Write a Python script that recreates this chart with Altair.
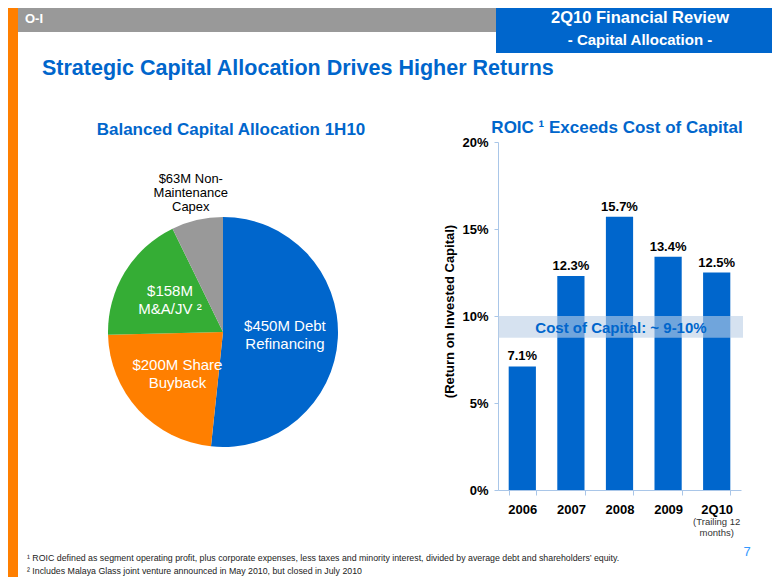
import altair as alt
import pandas as pd

# ---------------- data ----------------
pie_categories = ["Debt Refinancing", "Share Buyback", "M&A/JV", "Non-Maintenance Capex"]
pie_amounts = [450, 200, 158, 63]
pie_labels = ["$450M Debt\nRefinancing", "$200M Share\nBuyback", "$158M\nM&A/JV ²", "$63M Non-\nMaintenance\nCapex"]
pie_colors = ["#0066CC", "#FF7F00", "#35AD35", "#999999"]

years = ["2006", "2007", "2008", "2009", "2Q10"]
roic = [7.1, 12.3, 15.7, 13.4, 12.5]
roic_labels = ["7.1%", "12.3%", "15.7%", "13.4%", "12.5%"]
y_ticks = [0, 5, 10, 15, 20]
cost_of_capital = [8.75, 10.0]

W, H = 764, 569
FONT = "Liberation Sans"
BLUE = "#0066CC"
AXIS_BLUE = "#A9C6E8"

pie_df = pd.DataFrame({"cat": pie_categories, "amount": pie_amounts,
                       "label": pie_labels, "idx": list(range(len(pie_categories)))})
bar_df = pd.DataFrame({"year": years, "roic": roic, "lab": roic_labels})
band_df = pd.DataFrame({"lo": [cost_of_capital[0]], "hi": [cost_of_capital[1]]})
note_df = pd.DataFrame({"year": ["2Q10"], "note": ["(Trailing 12\nmonths)"]})

one = alt.Data(values=[{}])


def rect(x, x2, y, y2, color, **kw):
    return alt.Chart(one).mark_rect(color=color, **kw).encode(
        x=alt.value(x), x2=alt.value(x2), y=alt.value(y), y2=alt.value(y2))


def txt(s, x, y, size, color="#000000", weight="normal", align="left",
        baseline="alphabetic", lh=None):
    kw = dict(text=s, fontSize=size, color=color, fontWeight=weight,
              align=align, baseline=baseline, font=FONT)
    if lh:
        kw["lineHeight"] = lh
    return alt.Chart(one).mark_text(**kw).encode(x=alt.value(x), y=alt.value(y))


# ---------------- header / decorations ----------------
layers = [
    rect(0, 10, 0, H, "#FF7F00"),
    rect(10, 488, 0, 24, "#999999"),
    rect(488, W, 0, 45, BLUE),
    txt("O-I", 17, 11, 13, "#FFFFFF", "bold", baseline="middle"),
    txt("2Q10 Financial Review", 632, 15, 16.5, "#FFFFFF", "bold", align="center"),
    txt("- Capital Allocation -", 632, 37, 15, "#FFFFFF", "bold", align="center"),
    txt("Strategic Capital Allocation Drives Higher Returns", 34, 67, 21.5, BLUE, "bold"),
    txt("Balanced Capital Allocation 1H10", 223, 127, 17, BLUE, "bold", align="center"),
    txt("ROIC ¹ Exceeds Cost of Capital", 609, 125, 17, BLUE, "bold", align="center"),
]

# ---------------- pie ----------------
PX, PY = 215, 324
theta = alt.Theta("amount:Q", stack=True)
order = alt.Order("idx:Q")
color = alt.Color("cat:N", scale=alt.Scale(domain=pie_categories, range=pie_colors), legend=None)

pie_base = alt.Chart(pie_df).encode(theta=theta, order=order, color=color,
                                    x=alt.value(PX), y=alt.value(PY))
pie = pie_base.mark_arc(outerRadius=115)
pie_in = pie_base.transform_calculate(
    t="datum.cat != 'Non-Maintenance Capex' ? datum.label : ''"
).mark_text(radius=62, dy=-9, fontSize=15, lineBreak="\n", lineHeight=18, font=FONT,
            align="center", baseline="middle").encode(text="t:N", color=alt.value("#FFFFFF"))
pie_out = pie_base.transform_calculate(
    t="datum.cat == 'Non-Maintenance Capex' ? datum.label : ''"
).mark_text(radius=143, dy=-14, fontSize=13, lineBreak="\n", lineHeight=14, font=FONT,
            align="center", baseline="middle").encode(text="t:N", color=alt.value("#000000"))

layers += [pie, pie_in, pie_out]

# ---------------- bar chart ----------------
x_scale = alt.Scale(domain=years, range=[490, 733], paddingInner=0.44, paddingOuter=0.22)
y_scale = alt.Scale(domain=[0, 20], range=[482, 134], nice=False, zero=True)

x_axis = alt.Axis(orient="bottom", offset=-87, tickBand="extent", tickSize=5,
                  labelPadding=8, labelFontWeight="bold", labelFontSize=13,
                  labelColor="#000000", labelFont=FONT, labelAngle=0,
                  domainColor=AXIS_BLUE, tickColor=AXIS_BLUE, grid=False, title=None)
y_axis = alt.Axis(orient="left", offset=-490, values=y_ticks,
                  labelExpr="datum.value + '%'", tickSize=4, labelPadding=6,
                  labelFontWeight="bold", labelFontSize=13, labelColor="#000000",
                  labelFont=FONT, domainColor=AXIS_BLUE, tickColor=AXIS_BLUE, grid=False,
                  title="(Return on Invested Capital)", titleFontSize=13,
                  titleFontWeight="bold", titleColor="#000000", titleFont=FONT,
                  titleX=-49, titleY=303, titleAngle=270, titleAlign="center",
                  titleBaseline="middle")

X = alt.X("year:N", scale=x_scale, axis=x_axis, sort=years)
bar_base = alt.Chart(bar_df).encode(x=X, y=alt.Y("roic:Q", scale=y_scale, axis=y_axis))
bars = bar_base.mark_bar(color=BLUE)
bar_labels = bar_base.mark_text(dy=-6, baseline="alphabetic", fontSize=13,
                                fontWeight="bold", font=FONT, color="#000000").encode(text="lab:N")

band = alt.Chart(band_df).mark_rect(color="#BACEE6", opacity=0.6).encode(
    x=alt.value(490), x2=alt.value(735),
    y=alt.Y("lo:Q", scale=y_scale, axis=y_axis), y2="hi:Q")
band_text = txt("Cost of Capital: ~ 9-10%", 613, 320, 15, BLUE, "bold",
                align="center", baseline="middle")

note = alt.Chart(note_df).mark_text(fontSize=9.5, lineBreak="\n", lineHeight=11,
                                    font=FONT, color="#333333", baseline="top").encode(
    x=X, y=alt.value(509), text="note:N")

layers += [bars, band, band_text, bar_labels, note]

# ---------------- footnotes ----------------
layers += [
    txt("¹ ROIC defined as segment operating profit, plus corporate expenses, less taxes and minority interest, divided by average debt and shareholders’ equity.",
        19, 553, 8.8, "#222222"),
    txt("² Includes Malaya Glass joint venture announced in May 2010, but closed in July 2010",
        19, 566, 8.8, "#222222"),
    txt("7", 739, 544, 13, "#3399FF", align="center", baseline="middle"),
]

chart = alt.layer(*layers).properties(
    width=W, height=H, padding=0,
    autosize=alt.AutoSizeParams(type="none"),
    background="#FFFFFF",
).configure_view(stroke=None).configure(font=FONT)

chart.save("out.html", embed_options={"renderer": "svg", "actions": False})
